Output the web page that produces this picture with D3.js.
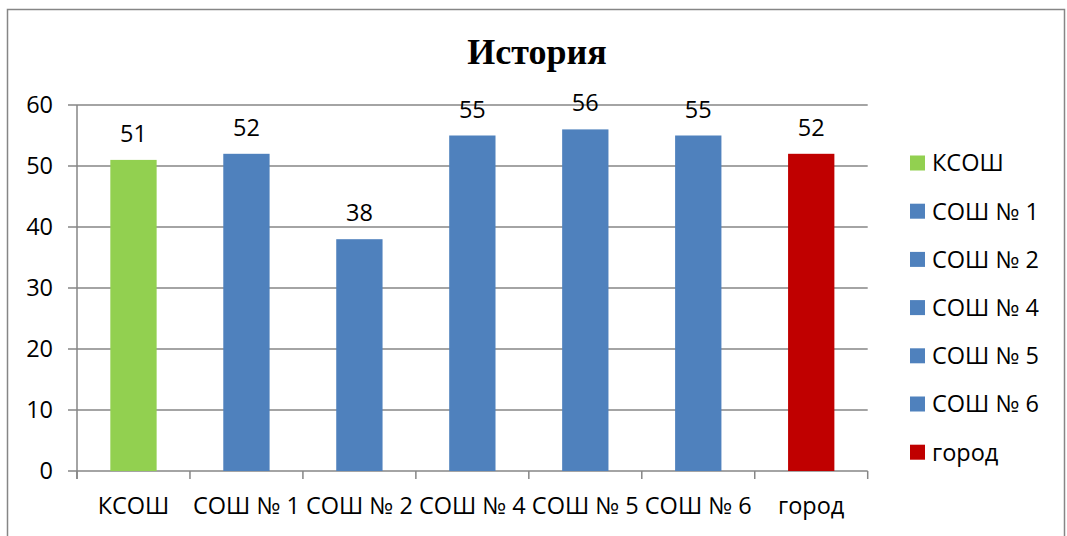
<!DOCTYPE html>
<html>
<head>
<meta charset="utf-8">
<script src="https://cdn.jsdelivr.net/npm/d3@7"></script>
<style>
  body { margin: 0; background: #fff; }
  text { font-family: "Open Sans", sans-serif; fill: #000; }
</style>
</head>
<body>
<div id="chart"></div>
<script>
// data
const categories = ["КСОШ", "СОШ № 1", "СОШ № 2", "СОШ № 4", "СОШ № 5", "СОШ № 6", "город"];
const values = [51, 52, 38, 55, 56, 55, 52];
const colors = ["#92D050", "#4F81BD", "#4F81BD", "#4F81BD", "#4F81BD", "#4F81BD", "#C00000"];
const yTicks = [0, 10, 20, 30, 40, 50, 60];
const title = "История";

const W = 1067, H = 536;
const plot = { left: 77, right: 867.7, top: 105, bottom: 471 };
const gridColor = "#868686";
const fontSize = "23.5px";

const svg = d3.select("#chart").append("svg")
    .attr("width", W)
    .attr("height", H);

// chart frame
svg.append("rect")
    .attr("x", 7.5).attr("y", 9.5)
    .attr("width", 1057).attr("height", 560)
    .style("fill", "#fff")
    .style("stroke", gridColor)
    .style("stroke-width", 1.5);

// title
svg.append("text")
    .attr("x", 537).attr("y", 64)
    .attr("text-anchor", "middle")
    .style("font-family", "'Liberation Serif', 'Times New Roman', serif")
    .style("font-weight", "bold")
    .style("font-size", "36px")
    .text(title);

const x = d3.scaleBand()
    .domain(categories)
    .range([plot.left, plot.right])
    .paddingInner(0.59)
    .paddingOuter(0.295);

const y = d3.scaleLinear()
    .domain([0, 60])
    .range([plot.bottom, plot.top]);

// horizontal gridlines (with the little tick to the left)
svg.append("g").selectAll("line")
    .data(yTicks)
    .enter().append("line")
    .attr("x1", plot.left - 9)
    .attr("x2", plot.right)
    .attr("y1", d => y(d))
    .attr("y2", d => y(d))
    .style("stroke", gridColor)
    .style("stroke-width", 1.5);

// y tick labels
svg.append("g").selectAll("text")
    .data(yTicks)
    .enter().append("text")
    .attr("x", plot.left - 24)
    .attr("y", d => y(d))
    .attr("dy", "0.36em")
    .attr("text-anchor", "end")
    .style("font-size", fontSize)
    .text(d => d);

// y axis line
svg.append("line")
    .attr("x1", plot.left).attr("x2", plot.left)
    .attr("y1", plot.top).attr("y2", plot.bottom + 8)
    .style("stroke", gridColor)
    .style("stroke-width", 1.5);

// x category boundary ticks
const step = x.step();
svg.append("g").selectAll("line")
    .data(d3.range(categories.length + 1))
    .enter().append("line")
    .attr("x1", i => plot.left + i * step)
    .attr("x2", i => plot.left + i * step)
    .attr("y1", plot.bottom)
    .attr("y2", plot.bottom + 8)
    .style("stroke", gridColor)
    .style("stroke-width", 1.5);

// x labels
svg.append("g").selectAll("text")
    .data(categories)
    .enter().append("text")
    .attr("x", d => x(d) + x.bandwidth() / 2)
    .attr("y", 514)
    .attr("text-anchor", "middle")
    .style("font-size", fontSize)
    .text(d => d);

// bars
svg.append("g").selectAll("rect")
    .data(values)
    .enter().append("rect")
    .attr("x", (d, i) => x(categories[i]))
    .attr("y", d => y(d))
    .attr("width", x.bandwidth())
    .attr("height", d => plot.bottom - y(d))
    .style("fill", (d, i) => colors[i]);

// value labels
svg.append("g").selectAll("text")
    .data(values)
    .enter().append("text")
    .attr("x", (d, i) => x(categories[i]) + x.bandwidth() / 2)
    .attr("y", d => y(d) - 18)
    .attr("text-anchor", "middle")
    .style("font-size", fontSize)
    .text(d => d);

// legend
const legend = svg.append("g").selectAll("g")
    .data(categories)
    .enter().append("g")
    .attr("transform", (d, i) => `translate(910, ${163 + i * 48.2})`);

legend.append("rect")
    .attr("x", 0).attr("y", -7.5)
    .attr("width", 15).attr("height", 15)
    .style("fill", (d, i) => colors[i]);

legend.append("text")
    .attr("x", 22)
    .attr("dy", "0.36em")
    .style("font-size", fontSize)
    .text(d => d);
</script>
</body>
</html>
